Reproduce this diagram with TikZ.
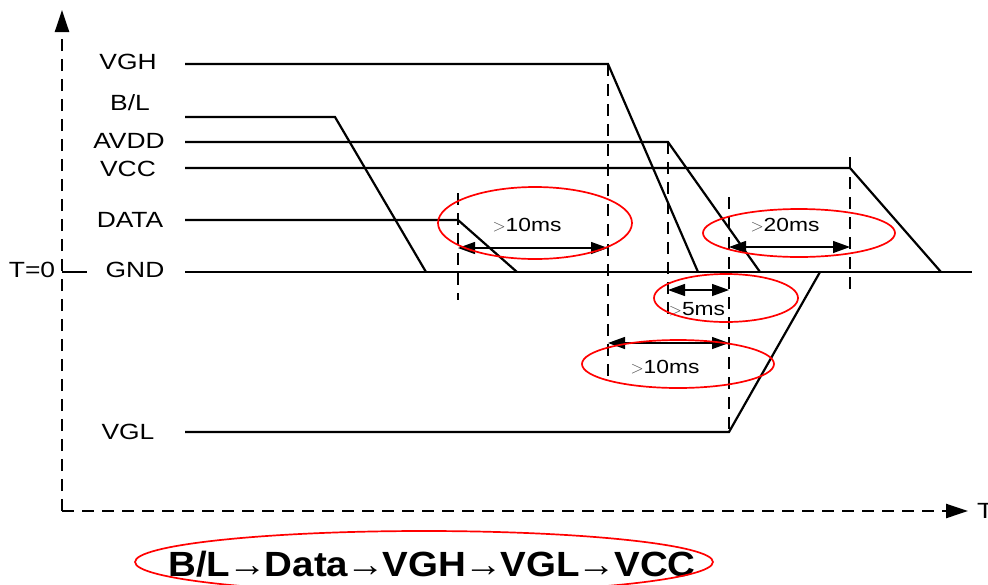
\documentclass[tikz,border=0pt]{standalone}
\usepackage{fontspec}
\setmainfont{Liberation Sans}
\newfontfamily\sigfont[FakeStretch=1.2]{Liberation Sans}
\newfontfamily\seqfont[FakeStretch=1.1]{Liberation Sans}
\usetikzlibrary{arrows.meta}

\begin{document}
\begin{tikzpicture}[x=1pt,y=-1pt,
  sig/.style={line width=2.2pt,line join=miter},
  tmark/.style={line width=2.4pt,dash pattern=on 12pt off 8pt},
  axis/.style={tmark,-{Triangle[length=22pt,width=14pt]}},
  dim/.style={line width=1.3pt,{Triangle[length=17pt,width=12pt]}-{Triangle[length=17pt,width=12pt]}},
  ring/.style={draw=red,line width=1.7pt},
  lbl/.style={font=\sigfont\fontsize{22}{26}\selectfont,inner sep=0pt},
  ms/.style={font=\sigfont\fontsize{19}{22}\selectfont,inner sep=0pt}]
\useasboundingbox (0,0) rectangle (988,584);
% axes
\coordinate (o) at (62,511);
\coordinate (ytop) at (62,10);
\coordinate (xend) at (968,511);
\draw[axis] (o) -- (ytop);
\draw[axis] (o) -- (xend);
\node[lbl,anchor=west] (tlab) at (977,511) {T};
\node[lbl] (t0) at (32,270) {T=0};
\draw[sig] (62,272) -- (87,272);
% signal names
\foreach \t/\x/\y/\n in %
{VGH/128/62/vgh,{B/L}/130/103/bl,AVDD/129/141/avdd,VCC/128/169/vcc,DATA/130/220/data,GND/135/270/gnd,VGL/128/432/vgl} {
   \node[lbl] (\n) at (\x,\y) {\t};
}
% signals
\draw[sig] (185,64) -- (608,64) -- (698,272);
\draw[sig] (185,117) -- (335,117) -- (426,272);
\draw[sig] (185,142) -- (668,142) -- (760,272);
\draw[sig] (185,168) -- (850,168) -- (941,272);
\draw[sig] (185,220) -- (458,220) -- (517,272);
\draw[sig] (185,272) -- (972,272);
\draw[sig] (185,432) -- (729,432) -- (820,272);
% time marks
\draw[tmark] (458,193) -- (458,300);
\draw[tmark] (608,64) -- (608,380);
\draw[tmark] (668,142) -- (668,315);
\draw[tmark] (729,197) -- (729,432);
\draw[tmark] (850,157) -- (850,290);
% intervals
\coordinate (a1) at (458,248); \coordinate (b1) at (608,248);
\coordinate (a2) at (729,247); \coordinate (b2) at (850,247);
\coordinate (a3) at (668,290); \coordinate (b3) at (729,290);
\coordinate (a4) at (608,343); \coordinate (b4) at (729,343);
\draw[dim] (a1) -- (b1);
\draw[dim] (a2) -- (b2);
\draw[dim] (a3) -- (b3);
\draw[dim] (a4) -- (b4);
\newcommand\gtr{{\color{black!70}$>$}}
\node[ms] (m1) at (527,225) {\gtr10ms};
\node[ms] (m2) at (785,225) {\gtr20ms};
\node[ms] (m3) at (697,309) {\gtr5ms};
\node[ms] (m4) at (665,367) {\gtr10ms};
\draw[ring] (535,223) ellipse [x radius=97pt,y radius=36pt];
\draw[ring] (799,233) ellipse [x radius=96pt,y radius=24pt];
\draw[ring] (726,298) ellipse [x radius=72pt,y radius=24pt];
\draw[ring] (678,364) ellipse [x radius=96pt,y radius=24pt];
% order
\newcommand\thento{\kern-2pt→\kern-2pt}
\node[font=\seqfont\bfseries\fontsize{35}{40}\selectfont,inner sep=0pt] (seq) at (432,564) {B/L\thento Data\thento VGH\thento VGL\thento VCC};
\draw[ring] (424,562) ellipse [x radius=289pt,y radius=31pt];
\end{tikzpicture}
\end{document}
